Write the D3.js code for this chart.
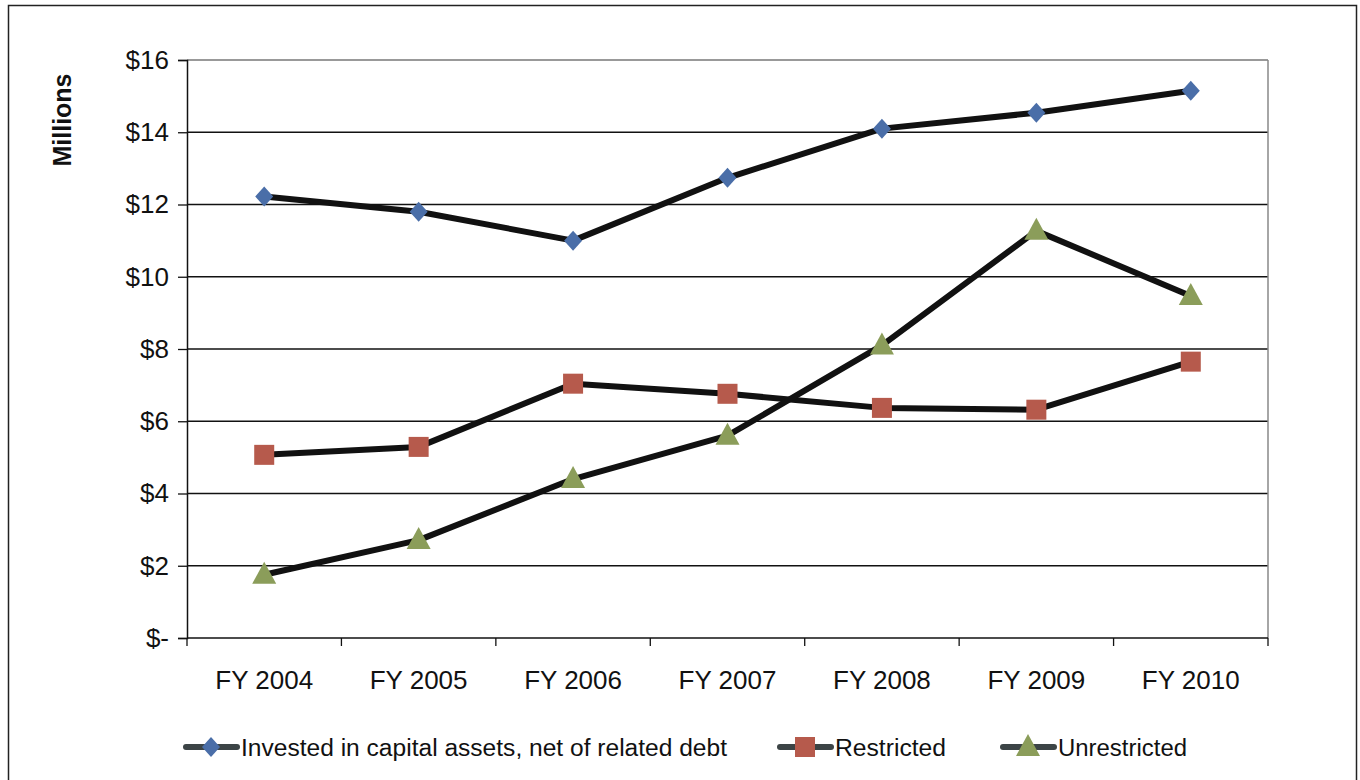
<!DOCTYPE html>
<meta charset="utf-8">
<html>
<head>
  <title>Net assets by category</title>
  <script src="https://d3js.org/d3.v7.min.js"></script>
  <style>
    body { margin: 0; background: #fff; font-family: "Liberation Sans", Arial, sans-serif; }
  </style>
</head>
<body>
<div id="chart"></div>
<script>
  // data
  var years = ["FY 2004", "FY 2005", "FY 2006", "FY 2007", "FY 2008", "FY 2009", "FY 2010"];
  var invested = [12.22, 11.80, 11.00, 12.74, 14.10, 14.54, 15.15];
  var restricted = [5.07, 5.29, 7.04, 6.76, 6.37, 6.32, 7.65];
  var unrestricted = [1.75, 2.71, 4.40, 5.60, 8.10, 11.27, 9.47];
  var yTicks = [0, 2, 4, 6, 8, 10, 12, 14, 16];

  var series = [
    {name: "Invested in capital assets, net of related debt", values: invested, color: "#4a6ea8", shape: "diamond"},
    {name: "Restricted", values: restricted, color: "#b65a4c", shape: "square"},
    {name: "Unrestricted", values: unrestricted, color: "#8b9d5a", shape: "triangle"}
  ];

  var W = 1360, H = 780;
  var margin = {top: 60, left: 187, right: 92, bottom: 142};
  var width = W - margin.left - margin.right,
      height = H - margin.top - margin.bottom;

  var svg = d3.select("#chart").append("svg")
    .attr("width", W).attr("height", H);

  // outer frame
  svg.append("rect")
    .attr("x", 8.5).attr("y", 5.5)
    .attr("width", 1348).attr("height", 790)
    .attr("fill", "none").attr("stroke", "#222").attr("stroke-width", 1.5);

  var g = svg.append("g")
    .attr("transform", "translate(" + margin.left + "," + margin.top + ")");

  var x = d3.scaleBand().domain(years).range([0, width]);
  var y = d3.scaleLinear().domain([0, 16]).range([height, 0]);

  // gridlines
  g.selectAll(".grid")
    .data(yTicks.filter(function(d){ return d > 0; }))
    .enter().append("line")
      .attr("x1", 0).attr("x2", width)
      .attr("y1", function(d){ return y(d); })
      .attr("y2", function(d){ return y(d); })
      .attr("stroke", function(d){ return d == 16 ? "#777" : "#111"; })
      .attr("stroke-width", 1.3);

  // right border of plot
  g.append("line")
    .attr("x1", width).attr("x2", width).attr("y1", 0).attr("y2", height)
    .attr("stroke", "#888").attr("stroke-width", 1.5);

  // y axis
  var yAxis = g.append("g")
    .call(d3.axisLeft(y).tickValues(yTicks).tickSize(9).tickPadding(9)
      .tickFormat(function(d){ return d == 0 ? "$-" : "$" + d; }));
  yAxis.select(".domain").attr("stroke", "#111").attr("stroke-width", 1.5);
  yAxis.selectAll(".tick line").attr("stroke", "#111").attr("stroke-width", 1.3);
  yAxis.selectAll("text").attr("font-size", 26).attr("fill", "#111")
    .attr("font-family", "Liberation Sans, Arial, sans-serif");

  // x axis with ticks at band boundaries
  var xAxis = g.append("g").attr("transform", "translate(0," + height + ")");
  xAxis.append("line").attr("x1", 0).attr("x2", width).attr("y1", 0).attr("y2", 0)
    .attr("stroke", "#111").attr("stroke-width", 1.5);
  var bounds = years.map(function(d){ return x(d); }).concat([width]);
  xAxis.selectAll(".xt").data(bounds).enter().append("line")
    .attr("x1", function(d){ return d; }).attr("x2", function(d){ return d; })
    .attr("y1", 0).attr("y2", 8)
    .attr("stroke", "#111").attr("stroke-width", 1.3);
  xAxis.selectAll(".xl").data(years).enter().append("text")
    .attr("x", function(d){ return x(d) + x.bandwidth() / 2; })
    .attr("y", 51)
    .attr("text-anchor", "middle")
    .attr("font-size", 26).attr("fill", "#111")
    .text(function(d){ return d; });

  // axis title
  svg.append("text")
    .attr("transform", "translate(71,120) rotate(-90)")
    .attr("text-anchor", "middle")
    .attr("font-size", 25).attr("font-weight", "bold").attr("fill", "#111")
    .text("Millions");

  var line = d3.line()
    .x(function(d, i){ return x(years[i]) + x.bandwidth() / 2; })
    .y(function(d){ return y(d); });

  function marker(sel, shape, color) {
    if (shape == "diamond") {
      sel.append("path").attr("d", "M0,-10L9,0L0,10L-9,0Z").attr("fill", color);
    } else if (shape == "square") {
      sel.append("rect").attr("x", -10).attr("y", -10).attr("width", 20).attr("height", 20).attr("fill", color);
    } else {
      sel.append("path").attr("d", "M0,-13L12,9L-12,9Z").attr("fill", color);
    }
  }

  series.forEach(function(s) {
    g.append("path")
      .datum(s.values)
      .attr("d", line)
      .attr("fill", "none")
      .attr("stroke", "#111")
      .attr("stroke-width", 6)
      .attr("stroke-linejoin", "round");
  });

  series.forEach(function(s) {
    s.values.forEach(function(v, i) {
      var m = g.append("g")
        .attr("transform", "translate(" + (x(years[i]) + x.bandwidth() / 2) + "," + y(v) + ")");
      marker(m, s.shape, s.color);
    });
  });

  // legend
  var legendPos = [183, 777, 1000];
  var legendLen = [486, 111, 129];
  series.forEach(function(s, i) {
    var lg = svg.append("g").attr("transform", "translate(" + legendPos[i] + ",747)");
    lg.append("line").attr("x1", 3).attr("x2", 54).attr("y1", 0).attr("y2", 0)
      .attr("stroke", "#3c4446").attr("stroke-width", 6).attr("stroke-linecap", "round");
    var m = lg.append("g").attr("transform", "translate(28,0)");
    marker(m, s.shape, s.color);
    lg.append("text").attr("x", 58).attr("y", 9)
      .attr("font-size", 23).attr("fill", "#111")
      .attr("textLength", legendLen[i]).attr("lengthAdjust", "spacingAndGlyphs")
      .text(s.name);
  });
</script>
</body>
</html>
